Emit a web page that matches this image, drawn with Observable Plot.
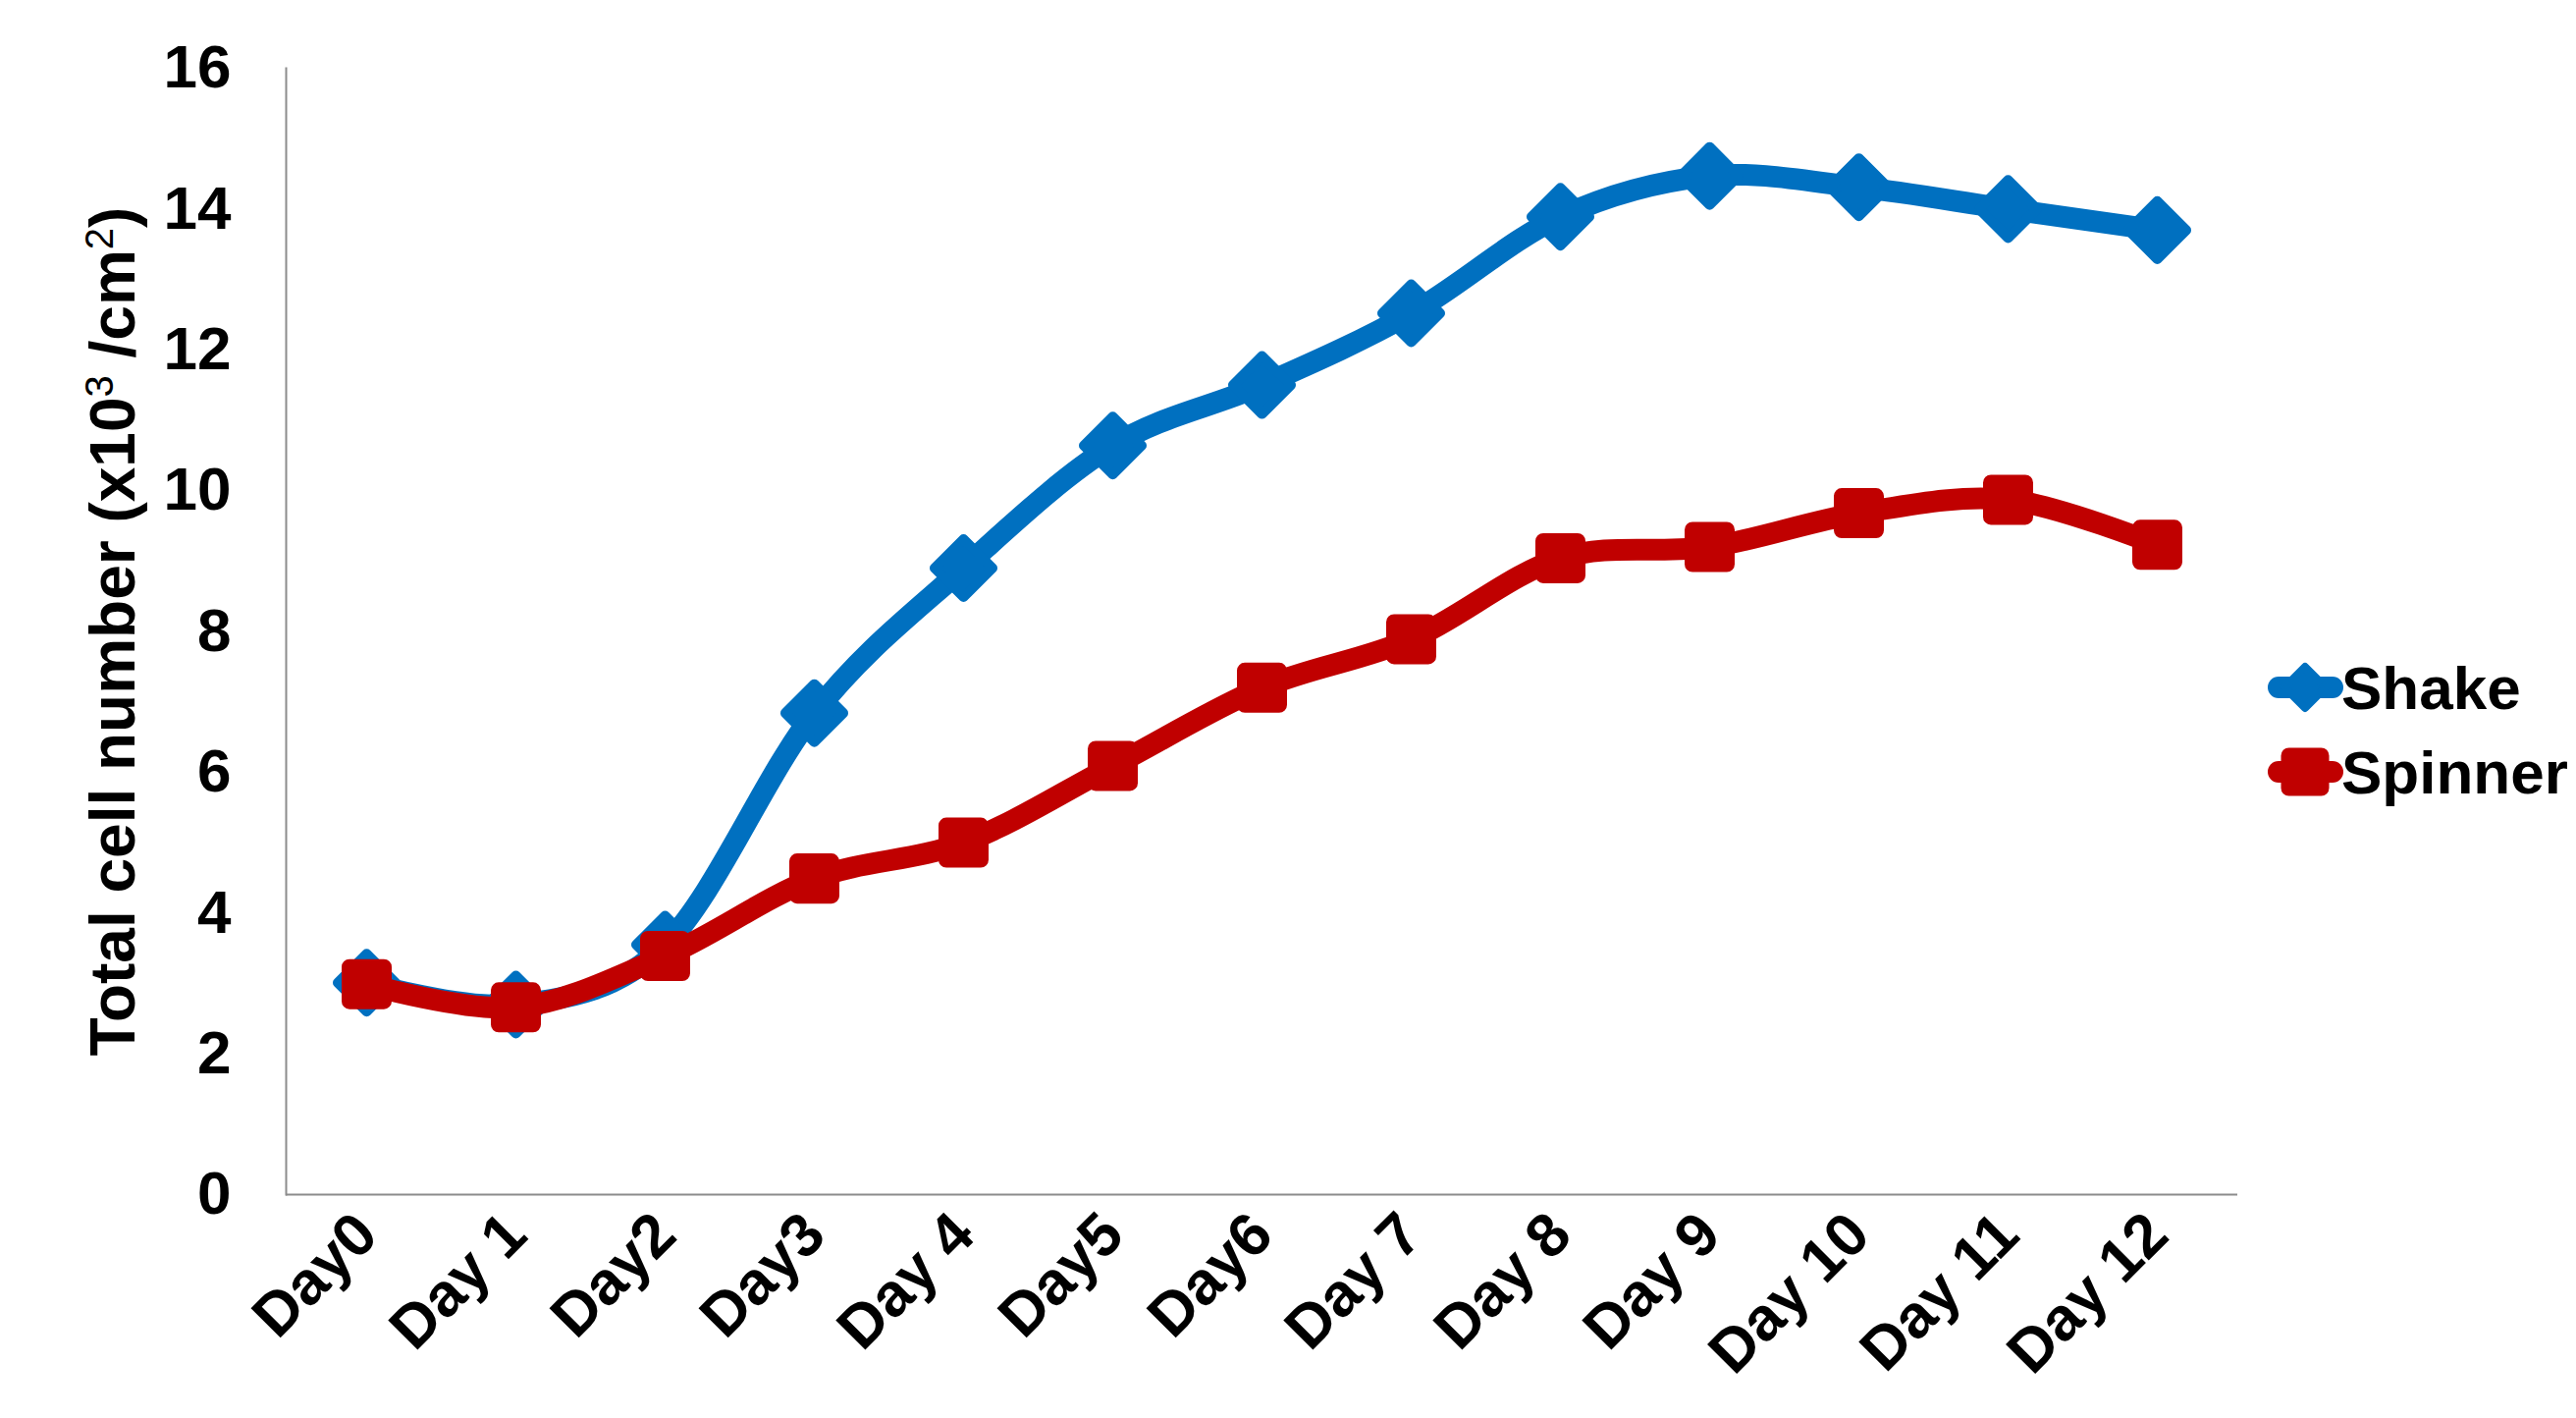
<!DOCTYPE html>
<html>
<head>
<meta charset="utf-8">
<script src="https://cdn.jsdelivr.net/npm/d3@7"></script>
<script src="https://cdn.jsdelivr.net/npm/@observablehq/plot@0.6"></script>
<style>
  html, body { margin: 0; padding: 0; background: #fff; }
  #wrap { position: relative; width: 2624px; height: 1444px; }
  #legend { position: absolute; left: 0; top: 0; }
</style>
</head>
<body>
<div id="wrap"></div>
<script>
// Culture days (x categories)
const days = ["Day0", "Day 1", "Day2", "Day3", "Day 4", "Day5", "Day6", "Day 7", "Day 8", "Day 9", "Day 10", "Day 11", "Day 12"];

// Total cell number (x10^3 / cm^2) per culture method
const shake   = [3.01, 2.70, 3.55, 6.84, 8.90, 10.64, 11.50, 12.52, 13.89, 14.47, 14.31, 14.00, 13.70];
const spinner = [2.99, 2.66, 3.39, 4.49, 5.00, 6.09, 7.20, 7.89, 9.04, 9.20, 9.68, 9.87, 9.23];

const seriesNames  = ["Shake", "Spinner"];
const seriesColors = ["#0070C0", "#C00000"];
const yTicks = [0, 2, 4, 6, 8, 10, 12, 14, 16];
// y title pieces: [text, isSuperscript]
const yTitleParts = [["Total cell number (x10", false], ["3", true], [" /cm", false], ["2", true], [")", false]];
const yTitle = yTitleParts.map(p => p[0]).join("");

const shakeRows   = days.map((d, i) => ({day: d, value: shake[i]}));
const spinnerRows = days.map((d, i) => ({day: d, value: spinner[i]}));

const FONT = "'Liberation Sans', Arial, Helvetica, sans-serif";
const axisGray = "#8c8c8c";

const chart = Plot.plot({
  width: 2624,
  height: 1444,
  marginLeft: 291,
  marginRight: 345,
  marginTop: 69,
  marginBottom: 228,
  style: {fontFamily: FONT, fontSize: "62px", fontWeight: "bold", color: "#000", background: "#fff"},
  x: {type: "point", domain: days, padding: 0.5},
  y: {domain: [0, 16]},
  marks: [
    Plot.ruleY([0], {stroke: axisGray, strokeWidth: 2}),
    Plot.frame({anchor: "left", stroke: axisGray, strokeWidth: 2}),
    Plot.axisY({
      ticks: yTicks, tickSize: 0, tickPadding: 56, tickFormat: d3.format("d"),
      label: yTitle, labelAnchor: "center", labelArrow: "none", labelOffset: 200
    }),
    Plot.axisX({tickSize: 0, tickRotate: -45, tickPadding: 30, label: null}),
    // Shake: smoothed line with diamond markers
    Plot.lineY(shakeRows, {
      x: "day", y: "value", stroke: seriesColors[0], strokeWidth: 22,
      curve: "cardinal", tension: 0, strokeLinecap: "round", strokeLinejoin: "round"
    }),
    Plot.dot(shakeRows, {
      x: "day", y: "value", symbol: "diamond2", r: 26.6,
      fill: seriesColors[0], stroke: seriesColors[0], strokeWidth: 10, strokeLinejoin: "round"
    }),
    // Spinner: smoothed line with square markers
    Plot.lineY(spinnerRows, {
      x: "day", y: "value", stroke: seriesColors[1], strokeWidth: 22,
      curve: "cardinal", tension: 0, strokeLinecap: "round", strokeLinejoin: "round"
    }),
    Plot.dot(spinnerRows, {
      x: "day", y: "value", symbol: "square", r: 19.75,
      fill: seriesColors[1], stroke: seriesColors[1], strokeWidth: 16, strokeLinejoin: "round"
    })
  ]
});

const wrap = document.getElementById("wrap");
wrap.appendChild(chart);

// Rebuild the y-axis title with true superscripts (10³, cm²)
const labelText = d3.select(chart).selectAll("text").filter(function () {
  return this.textContent === yTitle;
});
labelText.each(function () {
  const t = d3.select(this);
  t.text(null).style("font-size", "64px");
  yTitleParts.forEach(([s, sup]) => {
    const span = t.append("tspan").text(s);
    if (sup) span.attr("baseline-shift", "super").style("font-size", "40px").style("font-weight", "normal");
  });
});

// Legend on the right: line + marker swatch, then the series name
const legend = d3.select(wrap).append("svg")
  .attr("id", "legend")
  .attr("width", 2624).attr("height", 1444)
  .style("pointer-events", "none");

const rowCenters = [700, 786];
const legendSymbols = [
  {type: d3.symbolDiamond2, size: Math.pow(21 / 0.62625, 2), sw: 8},
  {type: d3.symbolSquare, size: Math.pow(33, 2), sw: 16}
];
seriesNames.forEach((name, i) => {
  const cy = rowCenters[i];
  const g = legend.append("g");
  g.append("line")
    .attr("x1", 2321).attr("x2", 2376).attr("y1", cy).attr("y2", cy)
    .attr("stroke", seriesColors[i]).attr("stroke-width", 22).attr("stroke-linecap", "round");
  g.append("path")
    .attr("d", d3.symbol(legendSymbols[i].type, legendSymbols[i].size)())
    .attr("transform", `translate(2348,${cy})`)
    .attr("fill", seriesColors[i]).attr("stroke", seriesColors[i])
    .attr("stroke-width", legendSymbols[i].sw).attr("stroke-linejoin", "round");
  g.append("text")
    .attr("x", 2385).attr("y", cy + 22)
    .attr("font-family", FONT).attr("font-size", 62).attr("font-weight", "bold")
    .attr("fill", "#000")
    .text(name);
});
</script>
</body>
</html>
